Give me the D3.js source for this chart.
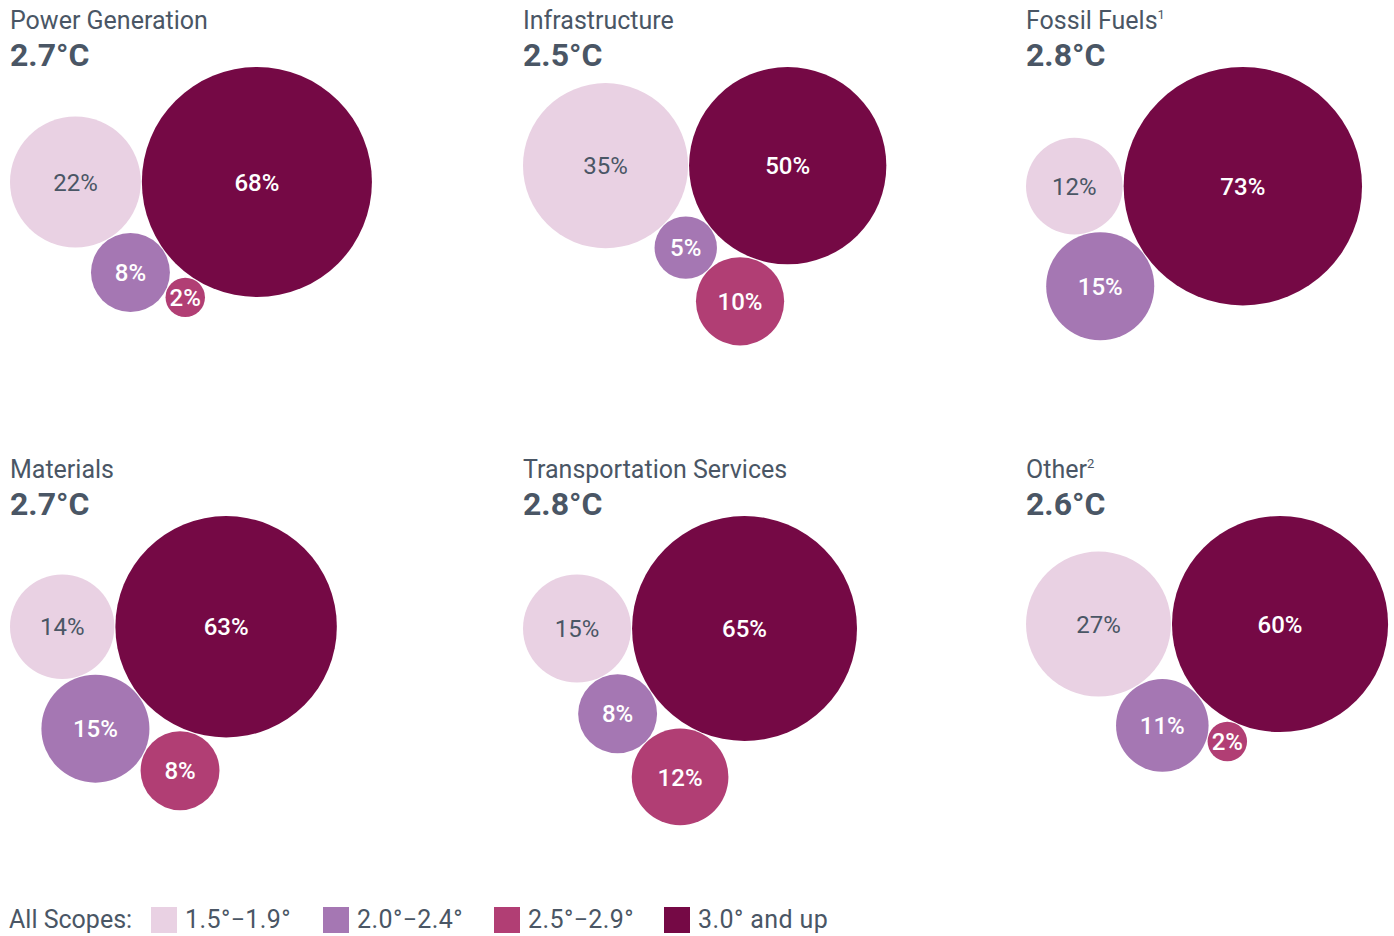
<!DOCTYPE html>
<html>
<head>
<meta charset="utf-8">
<script src="https://cdn.jsdelivr.net/npm/d3@7"></script>
<style>
	body { margin: 0; background: #fff; }
	svg { display: block; font-family: Roboto, 'Noto Sans', sans-serif; }
</style>
</head>
<body>
<svg id="chart" width="1394" height="936"></svg>
<script>
// NOTE chart data
const sectors = ['Power Generation', 'Infrastructure', 'Fossil Fuels', 'Materials', 'Transportation Services', 'Other'];
const footnotes = ['', '', '1', '', '', '2'];
const sectorTemps = ['2.7°C', '2.5°C', '2.8°C', '2.7°C', '2.8°C', '2.6°C'];
const bandLabels = ['1.5°\u22121.9°', '2.0°\u22122.4°', '2.5°\u22122.9°', '3.0° and up'];
const band1 = [22, 35, 12, 14, 15, 27];
const band2 = [8, 5, 15, 15, 8, 11];
const band3 = [2, 10, 0, 8, 12, 2];
const band4 = [68, 50, 73, 63, 65, 60];

const colors = ['#e9d1e3', '#a577b3', '#b13e74', '#750945'];
const textColor = '#4a5665';

var svg = d3.select('#chart');

var radius = d3.scaleSqrt().domain([0, 100]).range([0, 139.5]);
var gap = 1;

var colX = [10, 523, 1026];
var rowY = [0, 449];

// place circle c tangent to circles a and b, picking the side that scores best
function tangent(a, b, r, pick) {
	var da = a.r + r + gap,
		db = b.r + r + gap,
		dx = b.x - a.x,
		dy = b.y - a.y,
		d = Math.sqrt(dx * dx + dy * dy);
	var l = (da * da - db * db + d * d) / (2 * d);
	var h = Math.sqrt(Math.max(0, da * da - l * l));
	var mx = a.x + (l * dx) / d,
		my = a.y + (l * dy) / d;
	var p1 = { x: mx - (h * dy) / d, y: my + (h * dx) / d, r: r },
		p2 = { x: mx + (h * dy) / d, y: my - (h * dx) / d, r: r };
	return pick(p1) >= pick(p2) ? p1 : p2;
}

sectors.forEach(function (name, i) {
	var px = colX[i % 3],
		py = rowY[Math.floor(i / 3)];

	var g = svg.append('g').attr('transform', 'translate(' + px + ',' + py + ')');

	var title = g
		.append('text')
		.attr('x', 0)
		.attr('y', 29)
		.attr('fill', textColor)
		.style('font-size', '25px')
		.text(name);
	if (footnotes[i]) {
		title
			.append('tspan')
			.attr('dy', -10)
			.style('font-size', '13px')
			.text(footnotes[i]);
	}

	g.append('text')
		.attr('x', 0)
		.attr('y', 66)
		.attr('fill', textColor)
		.style('font-size', '32px')
		.style('font-weight', 700)
		.text(sectorTemps[i]);

	// bubbles: low band left, top band right, the rest tucked under them
	var A = { x: radius(band1[i]), y: 0, r: radius(band1[i]), v: band1[i], c: 0 };
	var rB = radius(band4[i]);
	var B = { x: A.r * 2 + gap + rB, y: 0, r: rB, v: band4[i], c: 3 };
	var C = tangent(A, B, radius(band2[i]), function (p) { return p.y; });
	C.v = band2[i];
	C.c = 1;
	var nodes = [A, B, C];
	if (band3[i] > 0) {
		var D = tangent(C, B, radius(band3[i]), function (p) {
			return Math.hypot(p.x - A.x, p.y - A.y);
		});
		D.v = band3[i];
		D.c = 2;
		nodes.push(D);
	}

	var bubbles = g
		.append('g')
		.attr('transform', 'translate(0,' + (67 + rB) + ')')
		.selectAll('.bubble')
		.data(nodes)
		.enter()
		.append('g')
		.attr('class', 'bubble')
		.attr('transform', function (d) {
			return 'translate(' + d.x + ',' + d.y + ')';
		});

	bubbles
		.append('circle')
		.attr('r', function (d) { return d.r; })
		.attr('fill', function (d) { return colors[d.c]; });

	bubbles
		.append('text')
		.attr('text-anchor', 'middle')
		.attr('dy', '0.36em')
		.attr('fill', function (d) { return d.c === 0 ? textColor : '#fff'; })
		.style('font-size', '24px')
		.style('font-weight', function (d) { return d.c === 0 ? 400 : 500; })
		.text(function (d) { return d.v + '%'; });
});

// NOTE legend
var legend = svg.append('g').attr('transform', 'translate(0,919)');

legend
	.append('text')
	.attr('x', 9)
	.attr('y', 9)
	.attr('fill', textColor)
	.style('font-size', '25px')
	.text('All Scopes:');

var legendX = [151, 323, 494, 664];

var items = legend
	.selectAll('.item')
	.data(bandLabels)
	.enter()
	.append('g')
	.attr('class', 'item')
	.attr('transform', function (d, i) {
		return 'translate(' + legendX[i] + ',0)';
	});

items
	.append('rect')
	.attr('x', 0)
	.attr('y', -12)
	.attr('width', 26)
	.attr('height', 26)
	.attr('fill', function (d, i) { return colors[i]; });

items
	.append('text')
	.attr('x', 34)
	.attr('y', 9)
	.attr('fill', textColor)
	.style('font-size', '25px')
	.style('letter-spacing', '0.4px')
	.text(function (d) { return d; });
</script>
</body>
</html>
